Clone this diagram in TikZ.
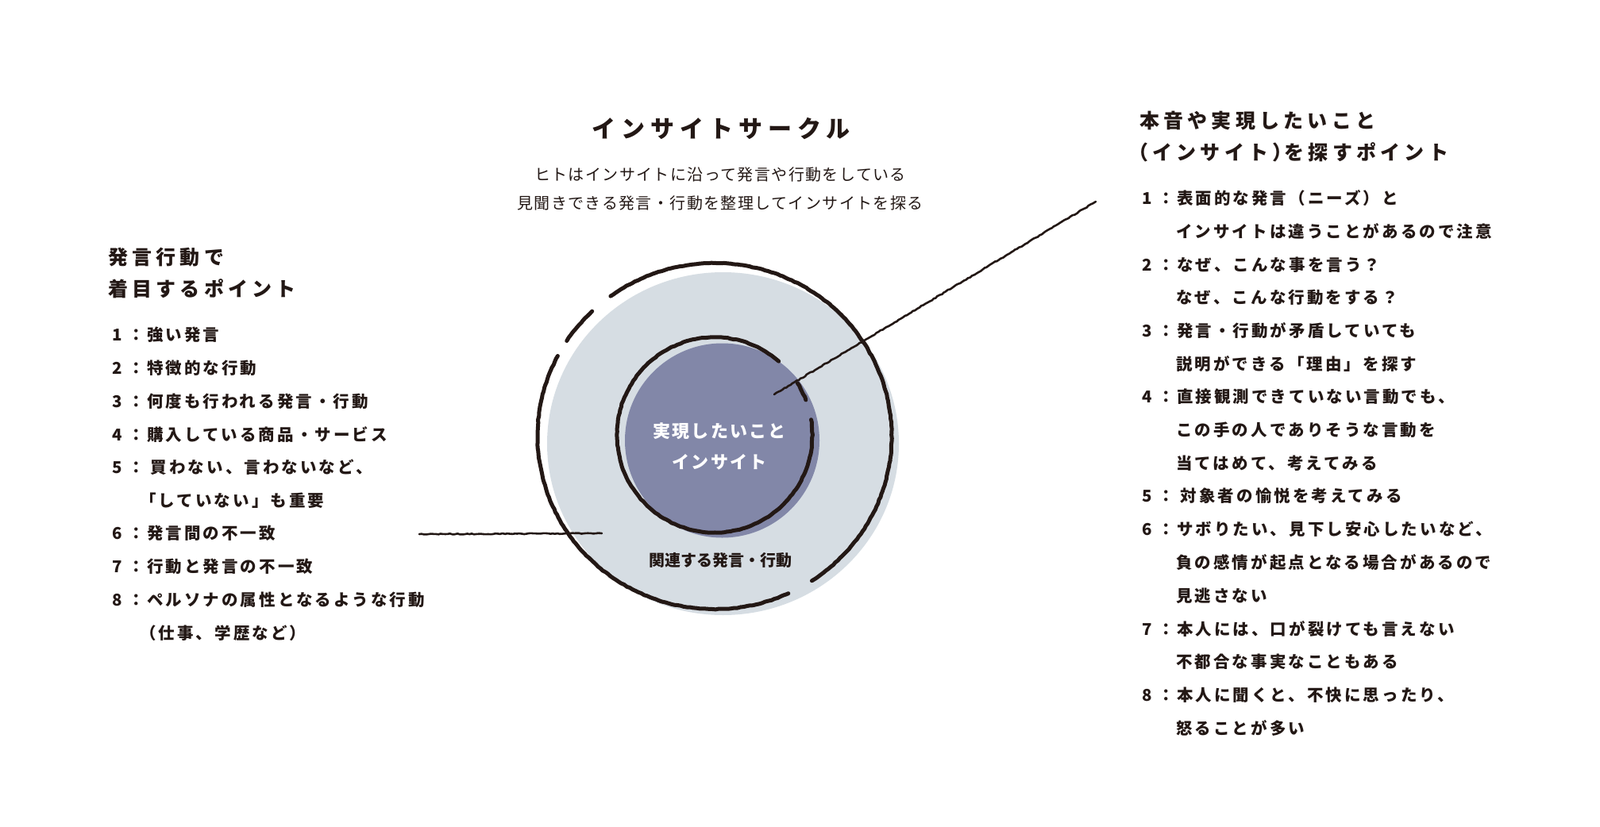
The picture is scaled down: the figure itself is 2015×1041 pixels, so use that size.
\documentclass[tikz,border=0pt]{standalone}
\usepackage{fontspec}
\usetikzlibrary{decorations.pathmorphing}
\setmainfont{Noto Sans CJK JP}
\newfontfamily\fT{Noto Sans CJK JP}[LetterSpace=23]
\newfontfamily\fS{Noto Sans CJK JP}[LetterSpace=7]
\newfontfamily\fH{Noto Sans CJK JP}[LetterSpace=21]
\newfontfamily\fL{Noto Sans CJK JP}[LetterSpace=15]
\newfontfamily\fC{Noto Sans CJK JP}[LetterSpace=10]
\newfontfamily\fR{Noto Sans CJK JP}
\definecolor{ink}{HTML}{231815}
\definecolor{pale}{HTML}{D6DDE3}
\definecolor{coreblue}{HTML}{8287A8}
\begin{document}
\begin{tikzpicture}[x=1pt,y=-1pt,
  ring/.style={draw=ink,line width=5pt,line cap=round,line join=round,
    decorate,decoration={random steps,segment length=4pt,amplitude=0.4pt}},
  link/.style={draw=ink,line width=2.6pt,line cap=round,line join=round,
    decorate,decoration={random steps,segment length=3pt,amplitude=0.6pt}},
  title/.style={inner sep=0pt,text=ink,font=\fT\bfseries\fontsize{30}{36}\selectfont},
  sub/.style={inner sep=0pt,text=ink,font=\fS\fontsize{20}{24}\selectfont},
  head/.style={anchor=west,inner sep=0pt,text=ink,font=\fH\bfseries\fontsize{25}{30}\selectfont},
  item/.style={anchor=west,inner sep=0pt,text=ink,font=\fL\bfseries\fontsize{20.5}{24}\selectfont},
  core/.style={inner sep=0pt,text=white,font=\fC\bfseries\fontsize{22}{26}\selectfont},
  ringlabel/.style={inner sep=0pt,text=ink,font=\fR\bfseries\fontsize{20}{24}\selectfont}]
\fill[white] (0,0) rectangle (2015,1041);
\useasboundingbox (0,0) rectangle (2015,1041);

% circles
\fill[pale] (910.5,559) ellipse [x radius=221.5pt, y radius=216pt];
\fill[coreblue] (909.5,555) circle [radius=122.5pt];
\node[core] (c1) at (906,543) {実現したいこと};
\node[core] (c2) at (906,582) {インサイト};
\node[ringlabel] (rl) at (907,706) {関連する発言・行動};

\coordinate (oc) at (900,549.5);
\draw[ring] (oc) ++(126:223pt and 218pt) arc[start angle=126,end angle=-56.7,x radius=223pt,y radius=218pt];
\draw[ring] (oc) ++(133.8:223pt and 218pt) arc[start angle=133.8,end angle=146.6,x radius=223pt,y radius=218pt];
\draw[ring] (oc) ++(152.4:223pt and 218pt) arc[start angle=152.4,end angle=294.6,x radius=223pt,y radius=218pt];
\coordinate (ic) at (900,548);
\draw[ring] (ic) ++(49:123pt) arc[start angle=49,end angle=369,radius=123pt];
\draw[ring] (ic) ++(21:123pt) arc[start angle=21,end angle=32,radius=123pt];

% connectors
\coordinate (lfoot) at (528,673);
\coordinate (lhead) at (758,672);
\draw[link] (lfoot) -- (lhead);
\coordinate (rfoot) at (975,497);
\coordinate (rhead) at (1380,254);
\draw[link] (rfoot) -- (rhead);

% title
\node[title] (ttl) at (908,162) {インサイトサークル};
\node[sub] (sub1) at (907,220) {ヒトはインサイトに沿って発言や行動をしている};
\node[sub] (sub2) at (907,256) {見聞きできる発言・行動を整理してインサイトを探る};

% left column
\node[head] (lh1) at (136,324) {発言行動で};
\node[head] (lh2) at (136,364) {着目するポイント};
\node[item] (l1) at (141,422) {1 ：強い発言};
\node[item] (l2) at (141,463.7) {2 ：特徴的な行動};
\node[item] (l3) at (141,505.4) {3 ：何度も行われる発言・行動};
\node[item] (l4) at (141,547.1) {4 ：購入している商品・サービス};
\node[item] (l5) at (141,588.8) {5 ： 買わない、言わないなど、};
\node[item] (l5b) at (176,630.5) {「していない」も重要};
\node[item] (l6) at (141,672.2) {6 ：発言間の不一致};
\node[item] (l7) at (141,713.9) {7 ：行動と発言の不一致};
\node[item] (l8) at (141,755.6) {8 ：ペルソナの属性となるような行動};
\node[item] (l8b) at (176,797.3) {（仕事、学歴など）};

% right column
\node[head] (rh1) at (1435,152) {本音や実現したいこと};
\node[head] (rh2) at (1421,192) {（インサイト）\kern-10ptを探すポイント};
\node[item] (r1) at (1438,250) {1 ：表面的な発言（ニーズ）と};
\node[item] (r1b) at (1481,291.7) {インサイトは違うことがあるので注意};
\node[item] (r2) at (1438,333.4) {2 ：なぜ、こんな事を言う？};
\node[item] (r2b) at (1481,375.1) {なぜ、こんな行動をする？};
\node[item] (r3) at (1438,416.8) {3 ：発言・行動が矛盾していても};
\node[item] (r3b) at (1481,458.5) {説明ができる「理由」を探す};
\node[item] (r4) at (1438,500.2) {4 ：直接観測できていない言動でも、};
\node[item] (r4b) at (1481,541.9) {この手の人でありそうな言動を};
\node[item] (r4c) at (1481,583.6) {当てはめて、考えてみる};
\node[item] (r5) at (1438,625.3) {5 ： 対象者の愉悦を考えてみる};
\node[item] (r6) at (1438,667) {6 ：サボりたい、見下し安心したいなど、};
\node[item] (r6b) at (1481,708.7) {負の感情が起点となる場合があるので};
\node[item] (r6c) at (1481,750.4) {見逃さない};
\node[item] (r7) at (1438,792.1) {7 ：本人には、口が裂けても言えない};
\node[item] (r7b) at (1481,833.8) {不都合な事実なこともある};
\node[item] (r8) at (1438,875.5) {8 ：本人に聞くと、不快に思ったり、};
\node[item] (r8b) at (1481,917.2) {怒ることが多い};
\end{tikzpicture}
\end{document}
